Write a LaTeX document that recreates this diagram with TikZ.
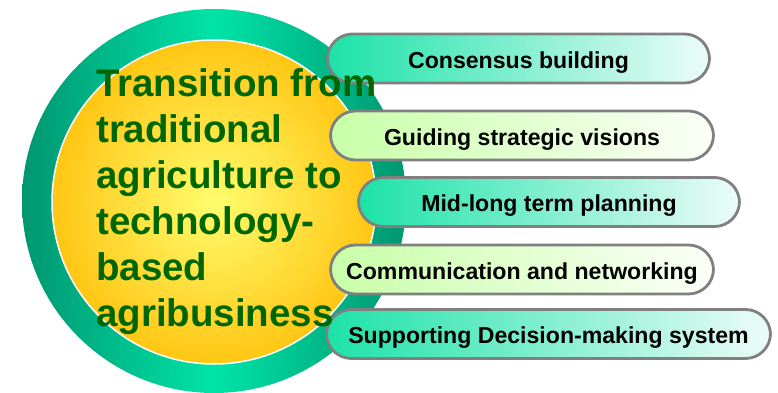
\documentclass[tikz,border=0pt]{standalone}
\usepackage{fontspec}
\setmainfont{Liberation Sans}

\definecolor{ringdark}{RGB}{0,150,112}
\definecolor{ringlight}{RGB}{0,228,168}
\definecolor{sunlight}{RGB}{255,252,110}
\definecolor{sunedge}{RGB}{255,198,20}
\definecolor{tealL}{RGB}{28,226,168}
\definecolor{tealR}{RGB}{236,252,248}
\definecolor{limeL}{RGB}{200,255,168}
\definecolor{limeR}{RGB}{252,255,248}
\definecolor{pillgray}{RGB}{128,128,128}
\definecolor{leafgreen}{RGB}{0,102,0}

\begin{document}
\begin{tikzpicture}[
		x=1pt, y=-1pt,
		every node/.style={inner sep=0pt},
		pill/.style={rectangle, rounded corners=25pt, draw=pillgray, line width=2.8pt,
			minimum height=49pt, text height=19.3pt, text depth=0pt,
			font=\bfseries\fontsize{23.1}{27}\selectfont},
		teal pill/.style={pill, left color=tealL, right color=tealR},
		lime pill/.style={pill, left color=limeL, right color=limeR}
	]
  \useasboundingbox (0,0) rectangle (778,393);
  % outer ring and the yellow disc inside it
  \node (ring) [circle, minimum size=384pt, left color=ringdark, right color=ringdark, middle color=ringlight] at (214,201) {};
  \node (core) [circle, minimum size=324pt, draw=white, line width=1.5pt, inner color=sunlight, outer color=sunedge] at (214,202) {};
  % the five capsules
  \node (consensus) [teal pill, minimum width=382pt] at (518.5,58.5) {Consensus building};
  \node (visions) [lime pill, minimum width=383pt] at (522,135.5) {Guiding strategic visions};
  \node (planning) [teal pill, minimum width=381pt] at (549,202) {Mid-long term planning};
  \node (network) [lime pill, minimum width=383pt] at (522,269.5) {Communication and networking};
  \node (decision) [teal pill, minimum width=444pt] at (548.5,334) {Supporting Decision-making system};
  \node (title) [anchor=north west, align=left, text=leafgreen, font=\bfseries\fontsize{38.5}{46}\selectfont] at (96,68.5)
    {Transition from\\traditional\\agriculture to\\technology-\\based\\agribusiness};
\end{tikzpicture}
\end{document}
